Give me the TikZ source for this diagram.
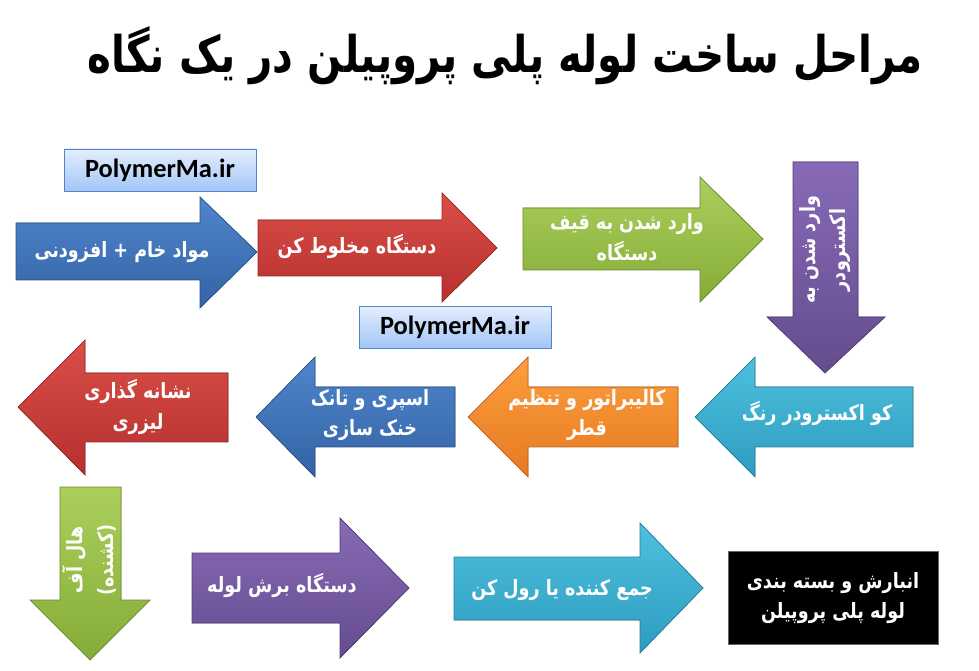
\documentclass[tikz,border=0pt]{standalone}
\usepackage{fontspec}
\setmainfont{Carlito}
\newfontfamily\fafont[Script=Arabic]{DejaVu Sans}
\TeXXeTstate=1
\newcommand{\fa}[1]{{\fafont\bfseries\beginR #1\endR}}
\newcommand{\fs}[1]{\scalebox{1}[1.2]{\fa{#1}}}
\definecolor{bluetop}{RGB}{79,134,204}
\definecolor{bluebot}{RGB}{52,98,165}
\definecolor{redtop}{RGB}{218,78,72}
\definecolor{redbot}{RGB}{182,48,46}
\definecolor{greentop}{RGB}{172,207,92}
\definecolor{greenbot}{RGB}{132,172,56}
\definecolor{purptop}{RGB}{136,106,182}
\definecolor{purpbot}{RGB}{100,76,142}
\definecolor{cyantop}{RGB}{78,192,222}
\definecolor{cyanbot}{RGB}{46,156,192}
\definecolor{orangetop}{RGB}{252,158,62}
\definecolor{orangebot}{RGB}{230,122,32}
\definecolor{webtop}{RGB}{228,238,255}
\definecolor{webbot}{RGB}{162,197,246}
\definecolor{webline}{RGB}{84,132,200}
\begin{document}
\begin{tikzpicture}[x=0.02cm,y=-0.02cm,
  steptext/.style={text=white,align=center,font=\fontsize{10}{17.5}\selectfont},
  bluearr/.style={top color=bluetop,bottom color=bluebot,draw=bluebot!80!black,thin},
  redarr/.style={top color=redtop,bottom color=redbot,draw=redbot!80!black,thin},
  greenarr/.style={top color=greentop,bottom color=greenbot,draw=greenbot!80!black,thin},
  purparr/.style={top color=purptop,bottom color=purpbot,draw=purpbot!80!black,thin},
  cyanarr/.style={top color=cyantop,bottom color=cyanbot,draw=cyanbot!80!black,thin},
  orangearr/.style={top color=orangetop,bottom color=orangebot,draw=orangebot!80!black,thin},
  webbox/.style={rectangle,draw=webline,top color=webtop,bottom color=webbot,
    minimum width=3.84cm,minimum height=0.84cm,font=\fontsize{15}{15}\selectfont\bfseries}]
\useasboundingbox (0,0) rectangle (979,671);

\node (title) at (505,56) {\scalebox{1}[1.25]{\fontsize{23}{23}\selectfont\fa{مراحل ساخت لوله پلی پروپیلن در یک نگاه}}};

\node[webbox] (site1) at (160,170) {PolymerMa.ir};
\node[webbox] (site2) at (455,327) {PolymerMa.ir};

\filldraw[bluearr] (16,223) -- (200,223) -- (200,197) -- (257,252) -- (200,308) -- (200,280) -- (16,280) -- cycle;
\node[steptext] (raw) at (122,252) {\fs{مواد خام + افزودنی}};

\filldraw[redarr] (258,220) -- (442,220) -- (442,193) -- (497,248) -- (442,302) -- (442,276) -- (258,276) -- cycle;
\node[steptext] (mixer) at (357,246) {\fs{دستگاه مخلوط کن}};

\filldraw[greenarr] (523,208) -- (700,208) -- (700,177) -- (763,239) -- (700,302) -- (700,270) -- (523,270) -- cycle;
\node[steptext] (hopper) at (627,237) {\fs{وارد شدن به قیف}\\\fs{دستگاه}};

\filldraw[purparr] (793,162) -- (858,162) -- (858,317) -- (885,317) -- (825,373) -- (767,317) -- (793,317) -- cycle;
\node[steptext,rotate=90] (extruder) at (825,250) {\fs{وارد شدن به}\\\fs{اکسترودر}};

\filldraw[cyanarr] (913,387) -- (755,387) -- (755,357) -- (695,417) -- (755,477) -- (755,447) -- (913,447) -- cycle;
\node[steptext] (coex) at (817,413) {\fs{کو اکسترودر رنگ}};

\filldraw[orangearr] (678,387) -- (528,387) -- (528,357) -- (468,417) -- (528,477) -- (528,447) -- (678,447) -- cycle;
\node[steptext] (calib) at (587,415) {\fs{کالیبراتور و تنظیم}\\\fs{قطر}};

\filldraw[bluearr] (455,387) -- (315,387) -- (315,357) -- (256,417) -- (315,477) -- (315,447) -- (455,447) -- cycle;
\node[steptext] (cooling) at (370,415) {\fs{اسپری و تانک}\\\fs{خنک سازی}};

\filldraw[redarr] (228,373) -- (85,373) -- (85,340) -- (18,407) -- (85,475) -- (85,442) -- (228,442) -- cycle;
\node[steptext] (laser) at (138,407) {\fs{نشانه گذاری}\\\fs{لیزری}};

\filldraw[greenarr] (60,487) -- (121,487) -- (121,600) -- (150,600) -- (90,660) -- (30,600) -- (60,600) -- cycle;
\node[steptext,rotate=90] (haul) at (89,560) {\fs{هال آف}\\\fs{(کشنده)}};

\filldraw[purparr] (192,553) -- (340,553) -- (340,518) -- (409,588) -- (340,658) -- (340,623) -- (192,623) -- cycle;
\node[steptext] (cutter) at (282,585) {\fs{دستگاه برش لوله}};

\filldraw[cyanarr] (454,557) -- (640,557) -- (640,523) -- (703,588) -- (640,653) -- (640,620) -- (454,620) -- cycle;
\node[steptext] (winder) at (562,590) {\fs{جمع کننده یا رول کن}};

\node[rectangle,fill=black,draw=black!60,minimum width=4.2cm,minimum height=1.86cm,steptext] (store) at (833,598) {\fs{انبارش و بسته بندی}\\\fs{لوله پلی پروپیلن}};
\end{tikzpicture}
\end{document}
